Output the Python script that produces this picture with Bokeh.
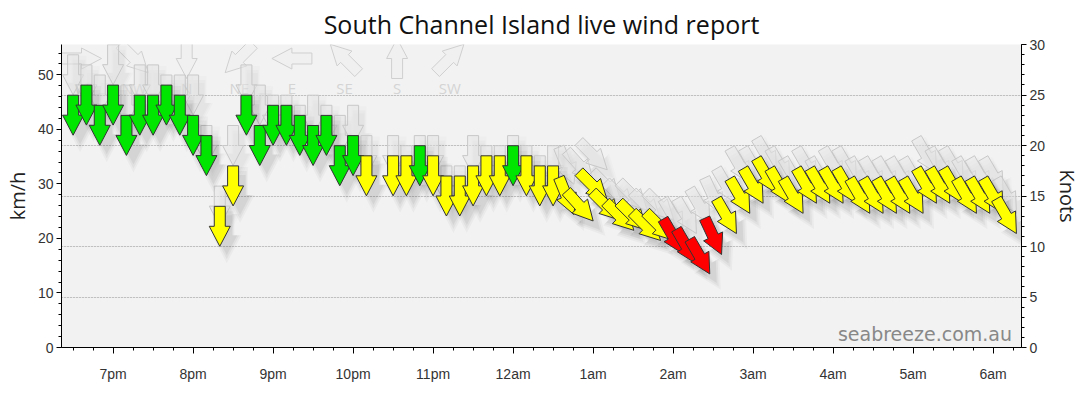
import math
from bokeh.plotting import figure
from bokeh.models import Range1d, LinearAxis, FixedTicker, Label, Grid
from bokeh.core.properties import value
from bokeh.embed import file_html
from bokeh.resources import INLINE

# ---------------- data ----------------
times = ["18:30", "18:40", "18:50", "19:00", "19:10", "19:20", "19:30", "19:40", "19:50",
         "20:00", "20:10", "20:20", "20:30", "20:40", "20:50", "21:00", "21:10", "21:20",
         "21:30", "21:40", "21:50", "22:00", "22:10", "22:30", "22:40", "22:50", "23:00",
         "23:10", "23:20", "23:30", "23:40", "23:50", "00:00", "00:10", "00:20", "00:30",
         "00:40", "00:50", "01:00", "01:10", "01:20", "01:30", "01:40", "01:50", "02:00",
         "02:10", "02:20", "02:30", "02:40", "02:50", "03:00", "03:10", "03:20", "03:30",
         "03:40", "03:50", "04:00", "04:10", "04:20", "04:30", "04:40", "04:50", "05:00",
         "05:10", "05:20", "05:30", "05:40", "05:50", "06:00", "06:10"]

wind_kt = [23, 24, 22, 24, 21, 23, 23, 24, 23,
           21, 19, 12, 16, 23, 20, 22, 22, 21,
           20, 21, 18, 19, 17, 17, 17, 18, 17,
           15, 15, 16, 17, 17, 18, 17, 16, 16,
           15, 14, 16, 14, 13, 13, 12, 12, 11,
           10, 9, 11, 13, 15, 16, 17, 16, 15,
           16, 16, 16, 16, 15, 15, 15, 15, 15,
           16, 16, 16, 15, 15, 15, 13]

wind_dir = [0, 0, 0, 0, 0, 0, 0, 0, 0,
            0, 0, 0, 0, 0, 0, 0, 0, 0,
            0, 0, 0, 0, 0, 0, 0, 0, 0,
            0, 0, 0, 0, 0, 0, 0, 0, 0,
            338, 318, 315, 315, 315, 315, 315, 315, 330,
            330, 330, 335, 330, 330, 330, 330, 330, 330,
            330, 330, 330, 330, 330, 330, 330, 330, 330,
            330, 330, 330, 330, 330, 330, 330]

gust_kt = [27, 26, 25, 28, 24, 26, 26, 25, 25,
           25, 20, 14, 20, 26, 24, 23, 23, 22,
           23, 22, 21, 22, 19, 19, 18, 19, 19,
           16, 16, 19, 18, 18, 19, 18, 17, 18,
           18, 18, 19, 16, 15, 15, 14, 14, 13,
           13, 14, 15, 16, 18, 18, 19, 18, 17,
           18, 17, 18, 18, 17, 17, 17, 17, 17,
           19, 18, 18, 17, 17, 17, 15]

gust_dir = wind_dir

tick_hours = [19, 20, 21, 22, 23, 24, 25, 26, 27, 28, 29, 30]
tick_labels = ["7pm", "8pm", "9pm", "10pm", "11pm", "12am",
               "1am", "2am", "3am", "4am", "5am", "6am"]

compass_names = ["W", "NW", "N", "NE", "E", "SE", "S", "SW"]
compass_deg = [270, 315, 0, 45, 90, 135, 180, 225]

KT_TO_KMH = 1.852

# ---------------- layout ----------------
FW, FH = 960, 303
X0, X1 = 18.355, 30.355
Y0, Y1 = 0, 30
XPX = (X1 - X0) / FW
YPX = (Y1 - Y0) / FH


def to_hours(s):
    h, m = (int(t) for t in s.split(":"))
    return h + m / 60 + (24 if h < 12 else 0)


# block arrow, centred, pointing along +u (pixels)
SHAPE = [(-20, -5.5), (0, -5.5), (0, -10.5), (20, 0), (0, 10.5), (0, 5.5), (-20, 5.5)]


def arrow(xc, yc, from_deg, scale=1.0, offx=0.0, offy=0.0):
    b = math.radians(from_deg + 180)
    dx, dy = math.sin(b), math.cos(b)
    nx, ny = math.cos(b), -math.sin(b)
    xs, ys = [], []
    for u, v in SHAPE:
        px = (u * dx + v * nx) * scale + offx
        py = (u * dy + v * ny) * scale + offy
        xs.append(xc + px * XPX)
        ys.append(yc + py * YPX)
    return xs, ys


def colour(kt):
    if kt >= 18:
        return "#00e600"
    if kt >= 12:
        return "#ffff00"
    return "#ff0000"


hx = [to_hours(t) for t in times]

p = figure(frame_width=FW, frame_height=FH,
           x_range=Range1d(X0, X1), y_range=Range1d(Y0, Y1),
           y_axis_location=None, output_backend="svg", toolbar_location=None,
           title="South Channel Island live wind report",
           min_border_left=54, min_border_right=44, min_border_top=36, min_border_bottom=45)

p.background_fill_color = "#f2f2f2"
p.border_fill_color = "white"
p.outline_line_color = None

p.title.text_font = "Open Sans"
p.title.text_font_size = "25px"
p.title.text_font_style = "normal"
p.title.text_color = "#111111"
p.title.align = "center"
p.title.standoff = 8

# grid
p.xgrid.visible = False
p.add_layout(Grid(dimension=1, ticker=FixedTicker(ticks=[5, 10, 15, 20, 25]),
                  grid_line_color="#9a9a9a", grid_line_dash="1 2"))

# axes
p.extra_y_ranges = {"kmh": Range1d(Y0 * KT_TO_KMH, Y1 * KT_TO_KMH)}
left = LinearAxis(y_range_name="kmh", axis_label="km/h")
p.add_layout(left, "left")
right = LinearAxis(axis_label="Knots")
p.add_layout(right, "right")

right.ticker = FixedTicker(ticks=[0, 5, 10, 15, 20, 25, 30], minor_ticks=list(range(0, 31)))
left.ticker = FixedTicker(ticks=[0, 10, 20, 30, 40, 50], minor_ticks=list(range(0, 56, 2)))

xa = p.xaxis[0]
xa.ticker = FixedTicker(ticks=tick_hours, minor_ticks=[18.5 + 0.25 * i for i in range(48)])
xa.major_label_overrides = {h: l for h, l in zip(tick_hours, tick_labels)}

for ax in (left, right, xa):
    ax.axis_line_color = "#000000"
    ax.major_tick_line_color = "#000000"
    ax.minor_tick_line_color = "#000000"
    ax.major_tick_in = 0
    ax.minor_tick_in = 0
    ax.major_tick_out = 6
    ax.minor_tick_out = 3
    ax.major_label_text_font = "Liberation Sans"
    ax.major_label_text_font_size = "14px"
    ax.major_label_text_color = "#333333"
    ax.axis_label_text_font = "Open Sans"
    ax.axis_label_text_font_size = "20px"
    ax.axis_label_text_font_style = "normal"
    ax.axis_label_text_color = "#222222"
xa.major_label_standoff = 12
left.major_tick_out = 5
left.major_label_standoff = 3
left.axis_label_standoff = 4
right.major_tick_out = 5
right.major_label_standoff = 3
right.axis_label_standoff = 6

# compass legend
lx = [X0 + (20 + 52.6 * i) * XPX for i in range(len(compass_names))]
leg_y = Y1 - 14 * YPX
lab_y = Y1 - 43 * YPX
lxs, lys = [], []
for x, d in zip(lx, compass_deg):
    a, b = arrow(x, leg_y, d)
    lxs.append(a)
    lys.append(b)
p.patches(lxs, lys, fill_color="#eeeeee", fill_alpha=0.4, line_color="#cfcfcf", line_width=1)
p.text(x=lx, y=[lab_y] * len(lx), text=compass_names, text_align="center",
       text_baseline="middle", text_font=value("Open Sans"), text_font_size="15px",
       text_color="#d4d4d4")

# gust shadows + gust arrows
for sc, al in ((1.35, 0.015), (1.15, 0.018), (1.0, 0.02)):
    sx, sy = [], []
    for x, g, d in zip(hx, gust_kt, gust_dir):
        a, b = arrow(x, g, d, sc, 6, -8)
        sx.append(a)
        sy.append(b)
    p.patches(sx, sy, fill_color="#000000", fill_alpha=al, line_color=None)

gx, gy = [], []
for x, g, d in zip(hx, gust_kt, gust_dir):
    a, b = arrow(x, g, d)
    gx.append(a)
    gy.append(b)
p.patches(gx, gy, fill_color="#e6e6e6", fill_alpha=0.5, line_color="#c8c8c8", line_width=1)

# wind shadows
for sc, al in ((1.4, 0.03), (1.2, 0.04), (1.0, 0.05)):
    sx, sy = [], []
    for x, w, d in zip(hx, wind_kt, wind_dir):
        a, b = arrow(x, w, d, sc, 7, -9)
        sx.append(a)
        sy.append(b)
    p.patches(sx, sy, fill_color="#000000", fill_alpha=al, line_color=None)

# wind arrows
wx, wy, wc = [], [], []
for x, w, d in zip(hx, wind_kt, wind_dir):
    a, b = arrow(x, w, d)
    wx.append(a)
    wy.append(b)
    wc.append(colour(w))
p.patches(wx, wy, fill_color=wc, line_color="#333333", line_width=1)

# watermark
p.add_layout(Label(x=X1 - 9.5 * XPX, y=1.35, text="seabreeze.com.au",
                   text_align="right", text_baseline="alphabetic",
                   text_font="DejaVu Sans", text_font_size="19px", text_color="#888888"))

open("out.html", "w").write(file_html(p, INLINE))
